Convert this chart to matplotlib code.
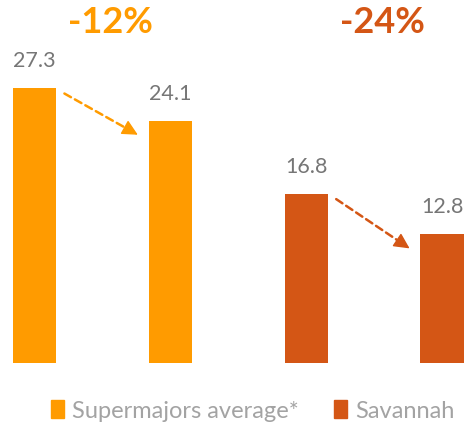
import matplotlib.pyplot as plt
from matplotlib.patches import Patch

# data
series_names = ["Supermajors average*", "Savannah"]
bar_values = [27.3, 24.1, 16.8, 12.8]
bar_series = [0, 0, 1, 1]
pct_labels = ["-12%", "-24%"]

colors = ["#FF9B00", "#D45615"]
label_grey = "#767676"
legend_grey = "#A3A3A3"
font = ["Lato", "DejaVu Sans"]

fig = plt.figure(figsize=(4.68, 4.27), dpi=100)
ax = fig.add_axes([0, 0.1475, 1, 0.8525])

xs = list(range(len(bar_values)))
width = 0.32
ax.bar(xs, bar_values, width=width, color=[colors[s] for s in bar_series])

for x, v in zip(xs, bar_values):
    ax.text(x, v + 1.8, f"{v:.1f}", ha="center", va="bottom",
            fontsize=15.5, color=label_grey, family=font)

# dashed arrows and percentage change per pair
for i, lab in enumerate(pct_labels):
    a, b = 2 * i, 2 * i + 1
    c = colors[bar_series[a]]
    x0, y0 = xs[a] + width / 2 + 0.06, bar_values[a] - 0.5
    x1, y1 = xs[b] - width / 2 - 0.08, bar_values[b] - 1.4
    # dashed shaft
    ax.annotate("", xy=(x1, y1), xytext=(x0, y0),
                arrowprops=dict(arrowstyle="-", color=c, lw=1.8,
                                linestyle=(0, (3, 1.8)),
                                shrinkA=0, shrinkB=10))
    # solid head
    f = 0.85
    ax.annotate("", xy=(x1, y1), xytext=(x0 + f * (x1 - x0), y0 + f * (y1 - y0)),
                arrowprops=dict(arrowstyle="-|>", color=c, lw=1,
                                mutation_scale=24, shrinkA=0, shrinkB=0))
    ax.text((xs[a] + xs[b]) / 2 + 0.06, 34.0, lab, ha="center", va="center",
            fontsize=26, fontweight="bold", color=c, family=font)

ax.set_xlim(-0.254, 3.19)
ax.set_ylim(0, 36.2)
ax.axis("off")

handles = [Patch(color=colors[0]), Patch(color=colors[1])]
leg = fig.legend(handles, series_names, loc="center", bbox_to_anchor=(0.54, 0.037),
                 ncol=2, frameon=False, handlelength=0.55, handleheight=0.8,
                 handletextpad=0.34, columnspacing=1.5,
                 prop={"family": font, "size": 17})
for t in leg.get_texts():
    t.set_color(legend_grey)

fig.savefig("out.png", dpi=100)
